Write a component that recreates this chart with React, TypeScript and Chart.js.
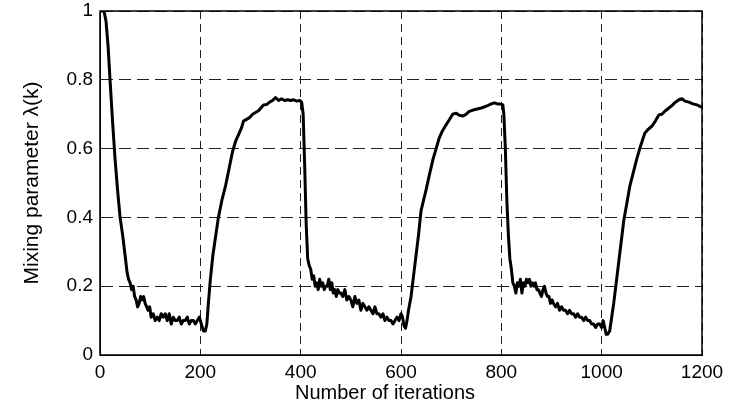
import React, { useEffect, useRef } from "react";
import { Chart, registerables } from "chart.js";

Chart.register(...registerables);

const iterations: number[] = [
  0, 8, 12, 16, 20, 25, 30, 35, 40, 45, 50, 54, 57, 60, 63, 66, 69, 72, 75, 78, 81, 84, 87, 90, 93, 96, 99,
  102, 106, 110, 114, 118, 122, 126, 130, 134, 138, 142, 146, 150, 154, 158, 162, 166, 170, 174, 178, 182,
  186, 190, 194, 198, 202, 206, 210, 213, 216, 220, 225, 230, 236, 243, 250, 257, 264, 270, 276, 282, 286,
  292, 298, 304, 310, 316, 322, 326, 332, 338, 344, 350, 356, 362, 368, 374, 380, 386, 392, 398, 402,
  405, 408, 411, 414, 417, 420, 423, 426, 429, 432, 435, 438, 441, 444, 447, 450, 453, 456, 459, 462, 465,
  468, 471, 474, 477, 480, 484, 488, 492, 496, 500, 504, 508, 512, 516, 520, 524, 528, 532, 536, 540, 544,
  548, 552, 556, 560, 564, 568, 572, 576, 580, 584, 588, 592, 596, 600, 603, 606, 609, 612, 615, 620, 625,
  630, 635, 640, 645, 650, 656, 664, 670, 676, 682, 688, 696, 703, 710, 716, 724, 730, 736, 744, 752, 760,
  766, 774, 780, 786, 792, 798, 803, 805, 808, 811, 814, 817, 820, 823, 826, 829, 832, 835, 838, 841, 844,
  847, 850, 853, 856, 859, 862, 865, 868, 871, 874, 877, 880, 883, 886, 889, 892, 895, 898, 901, 904, 908,
  912, 916, 920, 924, 928, 932, 936, 940, 944, 948, 952, 956, 960, 964, 968, 972, 976, 980, 984, 988, 992,
  996, 1000, 1003, 1006, 1009, 1012, 1016, 1020, 1024, 1029, 1034, 1039, 1044, 1050, 1056, 1063, 1070,
  1078, 1086, 1092, 1100, 1107, 1114, 1120, 1127, 1134, 1140, 1147, 1154, 1160, 1166, 1174, 1182, 1190, 1200,
];

const lambdaValues: number[] = [
  1.0, 1.0, 0.97, 0.9, 0.8, 0.68, 0.57, 0.48, 0.4, 0.35, 0.29, 0.24, 0.22, 0.21, 0.19, 0.2, 0.17, 0.16, 0.14,
  0.15, 0.17, 0.16, 0.17, 0.15, 0.14, 0.13, 0.14,
  0.11, 0.12, 0.1, 0.11, 0.1, 0.12, 0.11, 0.12, 0.1, 0.12, 0.09, 0.11, 0.1, 0.1, 0.11, 0.09, 0.1, 0.1, 0.11,
  0.09, 0.1,
  0.1, 0.09, 0.1, 0.11, 0.09, 0.07, 0.07, 0.09, 0.15, 0.22, 0.29, 0.34, 0.4, 0.45, 0.49, 0.54, 0.59, 0.62,
  0.64, 0.66, 0.68,
  0.685, 0.69, 0.7, 0.705, 0.71, 0.72, 0.727, 0.728, 0.735, 0.74, 0.748, 0.74, 0.745, 0.74, 0.742, 0.74,
  0.742, 0.738, 0.74, 0.735,
  0.7, 0.55, 0.38, 0.28, 0.26, 0.25, 0.22, 0.23, 0.2, 0.21, 0.19, 0.22, 0.2, 0.21, 0.19, 0.2, 0.2, 0.22, 0.19,
  0.21, 0.18,
  0.19, 0.17, 0.19, 0.18, 0.18, 0.17, 0.19, 0.16, 0.17, 0.16, 0.14, 0.17, 0.15, 0.16, 0.13, 0.15, 0.14, 0.13,
  0.14, 0.13, 0.12,
  0.14, 0.12, 0.12, 0.11, 0.12, 0.1, 0.11, 0.1, 0.1, 0.09, 0.1, 0.11, 0.1, 0.12, 0.11, 0.085, 0.078, 0.1,
  0.13, 0.17, 0.23,
  0.29, 0.35, 0.42, 0.45, 0.48, 0.52, 0.57, 0.6, 0.63, 0.65, 0.665, 0.683, 0.7, 0.703, 0.697, 0.695, 0.7,
  0.708, 0.712, 0.715, 0.718,
  0.721, 0.726, 0.73, 0.733, 0.73, 0.73, 0.727, 0.7, 0.6, 0.45, 0.35, 0.28, 0.25, 0.21, 0.2, 0.18, 0.21, 0.2,
  0.22, 0.18, 0.21,
  0.2, 0.22, 0.21, 0.22, 0.2, 0.21, 0.2, 0.21, 0.19, 0.19, 0.18, 0.17, 0.19, 0.2, 0.18, 0.17, 0.17, 0.15,
  0.16, 0.15, 0.14,
  0.15, 0.13, 0.14, 0.13, 0.13, 0.12, 0.13, 0.12, 0.12, 0.11, 0.12, 0.11, 0.11, 0.1, 0.11, 0.1, 0.1, 0.09,
  0.09, 0.08, 0.09,
  0.09, 0.08, 0.1, 0.08, 0.06, 0.06, 0.07, 0.11, 0.15, 0.21, 0.27, 0.33, 0.39, 0.44, 0.49, 0.53, 0.57,
  0.61, 0.645, 0.655, 0.665, 0.68, 0.698, 0.7, 0.71, 0.718, 0.725, 0.735, 0.742, 0.745, 0.738, 0.735, 0.73,
  0.727, 0.72,
];

const xTicks: number[] = [0, 200, 400, 600, 800, 1000, 1200];
const yTicks: number[] = [0, 0.2, 0.4, 0.6, 0.8, 1];
const xTitle = "Number of iterations";
const yTitle = "Mixing parameter \u03bb(k)";

const FONT = "'Liberation Sans', Arial, Helvetica, sans-serif";

export default function App() {
  const canvasRef = useRef<HTMLCanvasElement | null>(null);

  useEffect(() => {
    const canvas = canvasRef.current;
    if (!canvas) return;
    const points = iterations.map((x, i) => ({ x, y: lambdaValues[i] }));

    const framePlugin = {
      id: "frameAndTitle",
      afterDraw(chart: any) {
        const { ctx, chartArea } = chart;
        ctx.save();
        ctx.strokeStyle = "#000";
        ctx.lineWidth = 1.5;
        ctx.setLineDash([]);
        ctx.strokeRect(chartArea.left, chartArea.top, chartArea.right - chartArea.left, chartArea.bottom - chartArea.top);
        ctx.fillStyle = "#000";
        ctx.font = `20px ${FONT}`;
        ctx.textAlign = "center";
        ctx.textBaseline = "middle";
        ctx.fillText(xTitle, 385, 393);
        ctx.restore();
      },
    };

    const chart = new Chart(canvas, {
      type: "line",
      data: {
        datasets: [
          {
            data: points,
            borderColor: "#000",
            borderWidth: 3,
            pointRadius: 0,
            tension: 0,
            fill: false,
            borderJoinStyle: "round",
          },
        ],
      },
      options: {
        animation: false,
        responsive: false,
        maintainAspectRatio: false,
        layout: { padding: { left: 0, right: 35, top: 11, bottom: 0 } },
        plugins: { legend: { display: false }, tooltip: { enabled: false } },
        scales: {
          x: {
            type: "linear",
            min: 0,
            max: 1200,
            afterBuildTicks: (scale: any) => {
              scale.ticks = xTicks.map((v) => ({ value: v }));
            },
            afterFit: (scale: any) => {
              scale.height = 53;
              scale.paddingLeft = 0;
              scale.paddingRight = 0;
            },
            ticks: {
              color: "#000",
              font: { family: FONT, size: 19 },
              padding: 6,
              maxRotation: 0,
              autoSkip: false,
              callback: (v: any) => String(v),
            },
            grid: {
              color: "#222",
              lineWidth: 1,
              drawTicks: false,
            },
            border: { display: true, color: "#000", dash: [8, 5], width: 1 },
            title: { display: false },
          },
          y: {
            type: "linear",
            min: 0,
            max: 1,
            afterBuildTicks: (scale: any) => {
              scale.ticks = yTicks.map((v) => ({ value: v }));
            },
            afterFit: (scale: any) => {
              scale.width = 100;
              scale.paddingTop = 0;
              scale.paddingBottom = 0;
            },
            ticks: {
              color: "#000",
              font: { family: FONT, size: 19 },
              padding: 7,
              autoSkip: false,
              callback: (v: any) => String(v),
            },
            grid: {
              color: "#222",
              lineWidth: 1,
              drawTicks: false,
            },
            border: { display: true, color: "#000", dash: [12, 6], width: 1 },
            title: {
              display: true,
              text: yTitle,
              color: "#000",
              font: { family: FONT, size: 21 },
              padding: { top: 20, bottom: 0 },
            },
          },
        },
      },
      plugins: [framePlugin],
    });

    return () => chart.destroy();
  }, []);

  return (
    <div style={{ position: "absolute", left: 0, top: 0, width: 737, height: 408, background: "#fff" }}>
      <canvas ref={canvasRef} width={737} height={408} style={{ width: 737, height: 408, display: "block" }} />
    </div>
  );
}
